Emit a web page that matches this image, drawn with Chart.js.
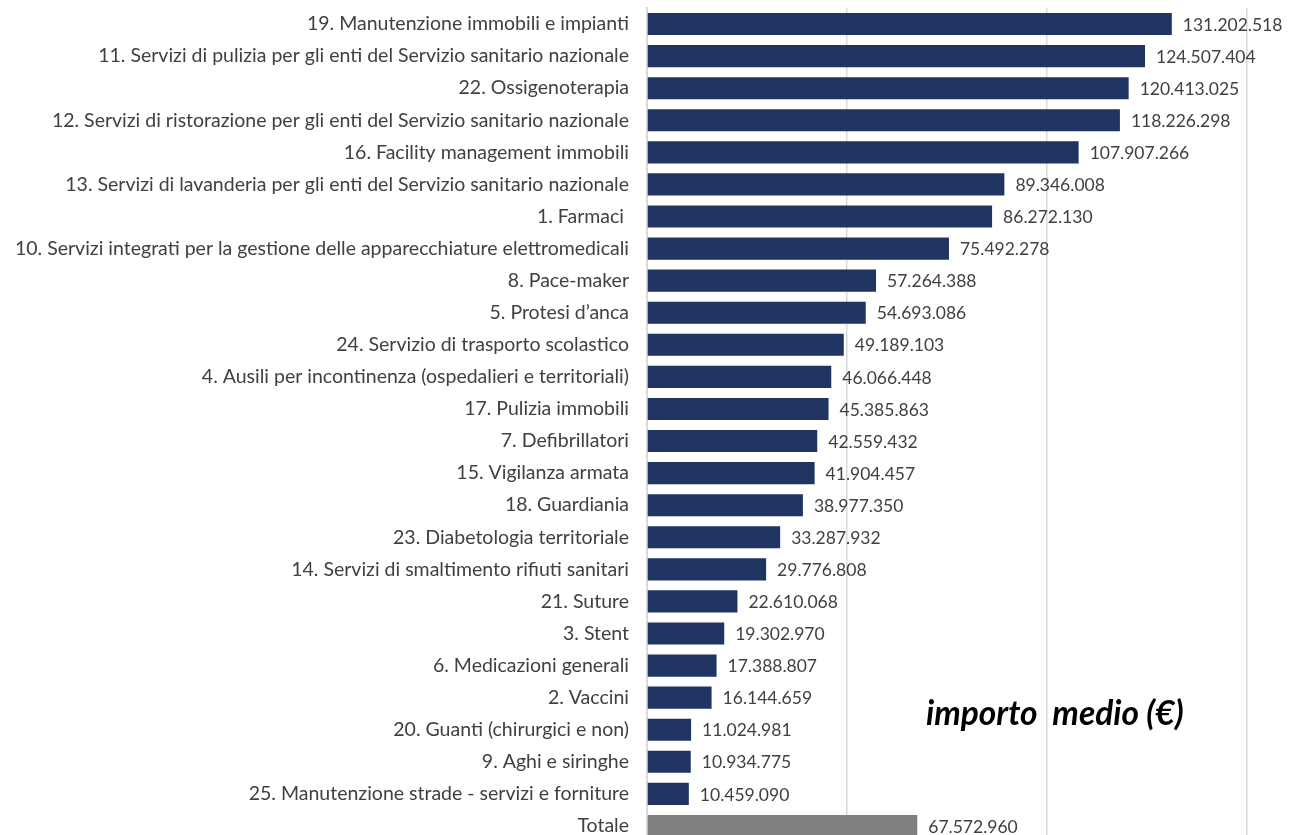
<!DOCTYPE html>
<html>
<head>
<meta charset="utf-8">
<script src="https://cdn.jsdelivr.net/npm/chart.js@4/dist/chart.umd.min.js"></script>
<style>
  html, body { margin: 0; padding: 0; background: #fff; overflow: hidden; }
  #wrap { position: relative; width: 1301px; height: 842px; }
  #note { position: absolute; left: 926px; top: 692px; font-family: "Lato", "Open Sans", sans-serif; font-weight: 700; font-style: italic; font-size: 33.5px; line-height: 40px; color: #000; white-space: pre; }
</style>
</head>
<body>
<div id="wrap">
  <canvas id="c" width="1301" height="842"></canvas>
  <div id="note">importo  medio (€)</div>
</div>
<script>
const categories = [
  "19. Manutenzione immobili e impianti",
  "11. Servizi di pulizia per gli enti del Servizio sanitario nazionale",
  "22. Ossigenoterapia",
  "12. Servizi di ristorazione per gli enti del Servizio sanitario nazionale",
  "16. Facility management immobili",
  "13. Servizi di lavanderia per gli enti del Servizio sanitario nazionale",
  "1. Farmaci ",
  "10. Servizi integrati per la gestione delle apparecchiature elettromedicali",
  "8. Pace-maker",
  "5. Protesi d\u2019anca",
  "24. Servizio di trasporto scolastico",
  "4. Ausili per incontinenza (ospedalieri e territoriali)",
  "17. Pulizia immobili",
  "7. Defibrillatori",
  "15. Vigilanza armata",
  "18. Guardiania",
  "23. Diabetologia territoriale",
  "14. Servizi di smaltimento rifiuti sanitari",
  "21. Suture",
  "3. Stent",
  "6. Medicazioni generali",
  "2. Vaccini",
  "20. Guanti (chirurgici e non)",
  "9. Aghi e siringhe",
  "25. Manutenzione strade - servizi e forniture",
  "Totale"
];
const importoMedio = [
  131202518, 124507404, 120413025, 118226298, 107907266, 89346008, 86272130,
  75492278, 57264388, 54693086, 49189103, 46066448, 45385863, 42559432,
  41904457, 38977350, 33287932, 29776808, 22610068, 19302970, 17388807,
  16144659, 11024981, 10934775, 10459090, 67572960
];
const axisMax = 150000000;
const axisStep = 50000000;

const fontFamily = '"Lato", "Open Sans", sans-serif';
const barColors = categories.map(c => c === "Totale" ? "#808080" : "#1F3461");

function fmt(v) {
  return String(v).replace(/\B(?=(\d{3})+(?!\d))/g, ".");
}

const valueLabels = {
  id: 'valueLabels',
  afterDatasetsDraw(chart) {
    const ctx = chart.ctx;
    const meta = chart.getDatasetMeta(0);
    ctx.save();
    ctx.font = '17.5px ' + fontFamily;
    ctx.fillStyle = '#404040';
    ctx.textAlign = 'left';
    ctx.textBaseline = 'middle';
    meta.data.forEach((bar, i) => {
      ctx.fillText(fmt(importoMedio[i]), bar.x + 11, bar.y + 1);
    });
    ctx.restore();
  }
};

new Chart(document.getElementById('c'), {
  type: 'bar',
  data: {
    labels: categories,
    datasets: [{
      data: importoMedio,
      backgroundColor: barColors,
      borderWidth: 0,
      barPercentage: 0.69,
      categoryPercentage: 1.0
    }]
  },
  options: {
    indexAxis: 'y',
    responsive: false,
    animation: false,
    layout: { padding: { top: 8, right: 54, bottom: 0, left: 0 } },
    plugins: { legend: { display: false }, tooltip: { enabled: false } },
    scales: {
      x: {
        min: 0, max: axisMax,
        ticks: { display: false, stepSize: axisStep },
        grid: { color: '#d9d9d9', lineWidth: 1.5, drawTicks: false },
        border: { display: false },
        afterFit(s) { s.height = 0; s.paddingLeft = 0; s.paddingRight = 0; }
      },
      y: {
        ticks: { color: '#404040', font: { family: fontFamily, size: 19.5 }, padding: 18, autoSkip: false },
        grid: { display: false, drawTicks: false },
        border: { display: true, color: '#d9d9d9', width: 2 },
        afterFit(s) { s.width = 647; s.paddingTop = 0; s.paddingBottom = 0; }
      }
    }
  },
  plugins: [valueLabels]
});
</script>
</body>
</html>
